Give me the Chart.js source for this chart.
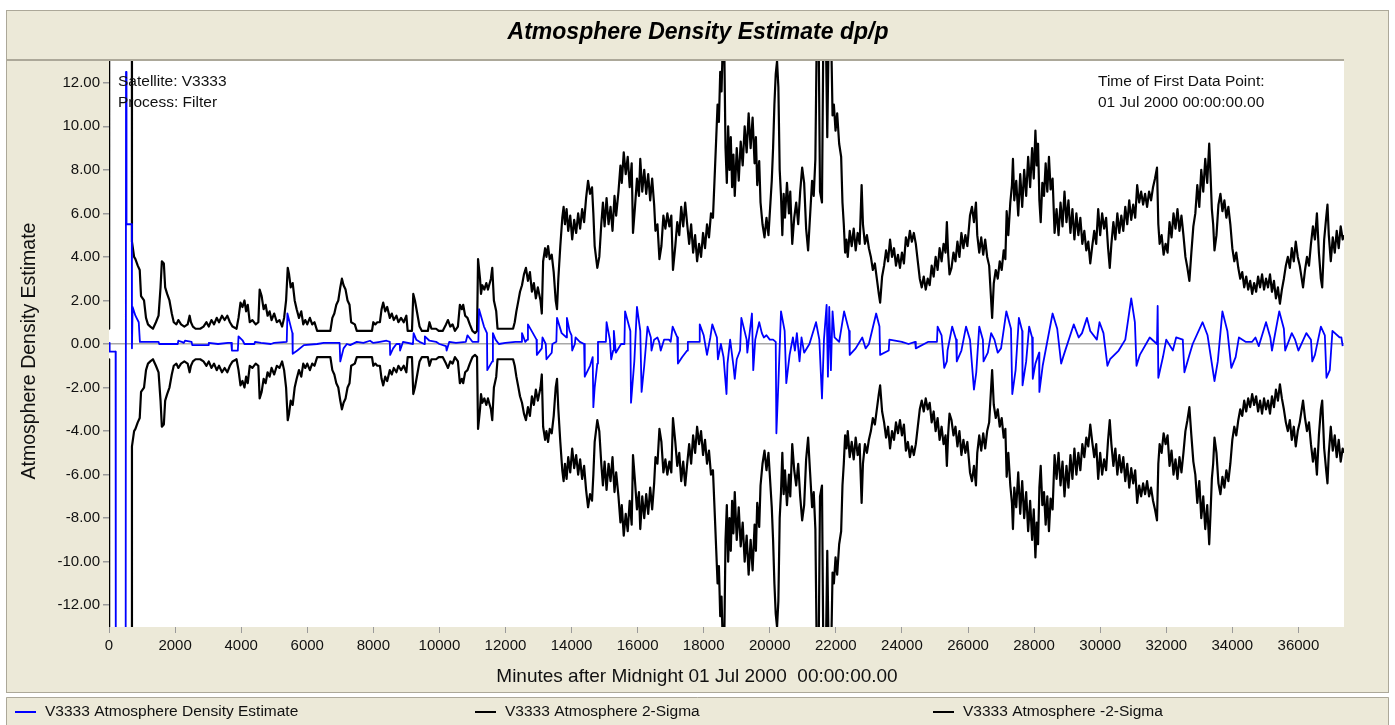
<!DOCTYPE html>
<html>
<head>
<meta charset="utf-8">
<script src="https://cdn.jsdelivr.net/npm/chart.js@4.4.1/dist/chart.umd.min.js"></script>
<style>
  html, body { margin: 0; padding: 0; background: #fff; }
  #wrap { position: relative; width: 1395px; height: 725px; }
</style>
</head>
<body>
<div id="wrap"><canvas id="densityChart"></canvas></div>
<script>
// chart text
const chartTitle = 'Atmosphere Density Estimate dp/p';
const xAxisTitle = 'Minutes after Midnight 01 Jul 2000  00:00:00.00';
const yAxisTitle = 'Atmosphere Density Estimate';
const seriesLabels = ['V3333 Atmosphere Density Estimate', 'V3333 Atmosphere 2-Sigma', 'V3333 Atmosphere -2-Sigma'];
const infoLeft = ['Satellite: V3333', 'Process: Filter'];
const infoRight = ['Time of First Data Point:', '01 Jul 2000 00:00:00.00'];

// axes
const xTicks = [0, 2000, 4000, 6000, 8000, 10000, 12000, 14000, 16000, 18000, 20000, 22000, 24000, 26000, 28000, 30000, 32000, 34000, 36000];
const yTicks = [-12, -10, -8, -6, -4, -2, 0, 2, 4, 6, 8, 10, 12];

// 2-sigma envelope (minutes, value)
const sigmaTime = [
  0,5,690,695,760,800,870,930,970,1060,
  1120,1180,1250,1330,1420,1500,1560,1600,1660,1700,
  1760,1830,1900,1960,2040,2100,2180,2280,2380,2440,
  2480,2540,2620,2760,2860,2950,3020,3100,3180,3260,
  3330,3420,3500,3580,3660,3740,3860,3920,3980,4040,
  4100,4150,4200,4260,4340,4440,4520,4560,4620,4680,
  4740,4800,4860,4920,5000,5080,5160,5240,5300,5360,
  5410,5450,5500,5560,5620,5680,5750,5820,5880,5940,
  6000,6080,6150,6220,6300,6500,6700,6760,6820,6880,
  6940,7000,7050,7100,7160,7220,7280,7330,7440,7500,
  7960,8000,8060,8120,8200,8250,8300,8360,8420,8500,
  8560,8620,8700,8760,8840,8920,9000,9040,9170,9210,
  9260,9330,9400,9470,9650,9700,9760,9900,9980,10100,
  10200,10260,10330,10400,10470,10560,10620,10680,10720,10780,
  10850,10920,11000,11080,11140,11170,11230,11260,11300,11360,
  11420,11470,11560,11600,11650,11720,11760,12230,12280,12330,
  12380,12440,12500,12560,12620,12680,12740,12800,12860,12920,
  12980,13060,13100,13140,13200,13240,13290,13340,13400,13460,
  13520,13560,13600,13660,13720,13760,13800,13850,13900,13960,
  14020,14080,14140,14200,14260,14320,14380,14440,14500,14560,
  14620,14660,14700,14780,14840,14900,14950,15000,15060,15120,
  15180,15240,15300,15350,15420,15480,15520,15580,15640,15700,
  15760,15820,15860,15920,15980,16040,16080,16140,16200,16260,
  16320,16380,16440,16500,16540,16600,16660,16720,16780,16840,
  16900,16960,17020,17070,17140,17200,17260,17320,17380,17440,
  17500,17560,17620,17680,17740,17800,17860,17920,17980,18040,
  18100,18160,18220,18280,18340,18380,18420,18460,18500,18540,
  18580,18620,18660,18700,18740,18780,18820,18860,18900,18940,
  19000,19060,19120,19180,19240,19300,19360,19420,19480,19540,
  19580,19620,19680,19720,19780,19840,19900,19960,20020,20060,
  20100,20140,20180,20220,20260,20300,20340,20380,20420,20460,
  20520,20580,20620,20680,20740,20800,20860,20920,20980,21040,
  21100,21160,21220,21280,21330,21380,21420,21480,21520,21580,
  21620,21700,21740,21780,21860,21900,21940,21990,22040,22100,
  22160,22200,22240,22280,22320,22360,22420,22480,22540,22600,
  22660,22720,22780,22820,22880,22940,23000,23060,23120,23180,
  23240,23300,23340,23400,23460,23520,23580,23640,23700,23760,
  23820,23880,23940,24000,24060,24120,24180,24240,24300,24360,
  24420,24480,24540,24600,24660,24720,24780,24840,24900,24960,
  25020,25080,25140,25200,25260,25320,25360,25400,25440,25500,
  25560,25620,25680,25740,25800,25860,25920,25980,26060,26120,
  26180,26240,26280,26340,26400,26460,26520,26580,26640,26700,
  26730,26780,26840,26900,26960,27020,27080,27130,27170,27220,
  27280,27330,27360,27400,27460,27520,27580,27640,27700,27760,
  27820,27880,27940,27990,28040,28080,28120,28160,28200,28250,
  28300,28350,28400,28450,28500,28560,28620,28680,28740,28800,
  28860,28920,28980,29040,29100,29160,29220,29280,29340,29400,
  29460,29520,29580,29640,29700,29760,29820,29880,29940,30000,
  30060,30120,30180,30240,30290,30340,30400,30460,30520,30580,
  30640,30700,30760,30820,30880,30940,31000,31060,31120,31180,
  31240,31300,31360,31420,31480,31540,31600,31660,31720,31760,
  31800,31860,31920,31980,32040,32100,32160,32220,32280,32340,
  32400,32460,32520,32580,32640,32700,32760,32820,32880,32940,
  33000,33060,33120,33180,33240,33300,33340,33380,33420,33460,
  33520,33580,33640,33700,33760,33820,33880,33940,34000,34060,
  34120,34180,34240,34300,34360,34420,34480,34540,34600,34660,
  34720,34780,34840,34900,34960,35020,35080,35140,35200,35260,
  35320,35380,35440,35500,35560,35620,35680,35740,35800,35860,
  35920,35980,36040,36100,36140,36200,36260,36320,36380,36440,
  36500,36560,36620,36680,36720,36780,36840,36880,36920,36980,
  37040,37100,37160,37220,37280,37340,37380
];
const sigmaUpper = [
  0.7,30,30,4.7,4.0,3.9,3.6,3.4,2.2,2.0,
  1.2,0.9,0.8,0.7,1.0,1.3,2.6,3.8,3.7,2.6,
  2.3,2.0,1.4,1.0,0.9,1.1,0.9,0.8,0.9,1.3,
  1.0,0.8,0.7,0.7,0.8,1.0,0.8,1.1,0.9,1.2,
  1.0,1.3,1.1,1.3,1.0,0.8,0.7,1.2,1.9,1.7,
  2.0,1.5,1.8,1.0,1.1,0.9,1.0,2.5,2.2,1.6,
  1.8,1.3,1.5,1.1,1.4,1.0,1.1,0.8,1.2,2.0,
  3.5,3.2,2.6,2.8,2.0,1.6,1.2,1.5,0.9,1.1,
  0.9,1.2,0.9,1.0,0.6,0.6,0.6,1.2,1.4,1.8,
  2.0,2.6,3.0,2.7,2.5,2.0,1.8,1.0,0.9,0.6,
  0.6,1.0,0.9,1.0,1.0,1.6,1.9,1.5,1.7,1.2,
  1.4,1.1,1.3,1.0,1.2,1.0,1.3,0.6,0.6,2.3,
  2.0,1.4,0.8,0.6,0.6,1.0,0.7,0.7,0.6,0.6,
  0.9,1.1,0.8,0.9,0.6,0.8,1.8,1.6,1.8,1.3,
  1.2,0.9,0.6,0.5,0.6,3.9,3.0,2.3,2.7,2.5,
  2.8,2.5,3.0,3.5,2.0,1.5,0.7,0.7,1.0,1.5,
  1.9,2.4,2.7,3.2,3.5,2.9,3.3,2.4,2.8,2.1,
  2.6,2.0,1.4,3.8,4.4,4.0,4.5,3.9,4.1,3.3,
  2.0,1.6,3.0,4.5,5.8,6.3,5.5,6.2,5.2,5.9,
  4.8,5.7,5.1,6.0,5.3,6.2,5.6,6.7,7.5,6.9,
  7.2,6.0,4.5,3.5,4.0,5.5,6.5,5.4,6.7,5.5,
  6.3,5.2,6.8,5.9,7.0,8.2,7.4,8.8,7.8,8.6,
  7.2,8.3,5.1,6.3,7.6,6.8,8.5,7.0,8.0,6.9,
  7.8,6.6,7.6,6.4,5.2,5.5,3.9,4.5,5.9,5.3,
  6.0,5.4,5.9,3.4,4.5,5.6,5.0,6.3,5.4,6.5,
  5.5,4.6,5.5,4.2,5.0,3.8,4.6,4.0,5.1,4.4,
  5.5,4.9,6.0,5.8,8.0,9.5,11.0,10.2,12.5,11.6,
  14,14,9.0,7.4,10.0,8.0,9.5,7.2,8.7,6.8,
  9.0,7.5,9.3,8.2,10.0,8.8,10.6,9.0,10.4,8.3,
  9.5,7.3,8.4,6.5,5.5,4.9,5.8,5.0,6.5,7.5,
  9.0,11.0,12.4,13.0,11.8,8.0,6.8,5.0,6.9,5.8,
  7.4,6.0,7.0,4.6,5.8,6.5,5.5,7.0,8.1,7.4,
  5.3,4.3,5.9,7.5,6.8,8.5,14,14,7.0,6.5,
  14,14,9.5,14,14,10.5,11.0,9.8,10.6,9.2,
  8.6,6.5,5.5,4.2,4.8,4.0,5.2,4.5,5.3,4.3,
  5.1,4.6,7.3,5.5,4.6,5.0,4.4,4.0,3.4,3.7,
  3.0,2.3,1.9,3.1,3.6,4.3,3.8,4.8,4.0,4.4,
  3.6,4.1,3.5,4.2,3.7,4.9,4.5,5.2,4.7,5.1,
  4.6,3.8,3.0,2.6,3.1,2.5,3.0,2.7,3.6,3.1,
  4.0,3.4,4.4,3.8,4.6,4.2,5.6,4.1,3.2,3.5,
  4.2,3.8,4.7,4.0,5.1,4.4,5.0,4.5,5.9,6.3,
  5.6,6.5,5.0,4.2,4.9,4.1,4.8,4.0,3.6,2.0,
  1.2,2.8,3.4,3.0,3.8,3.4,4.3,3.9,6.1,5.0,
  6.5,7.3,8.5,6.6,7.5,5.9,7.8,6.3,8.0,6.8,
  8.6,7.2,9.0,7.6,9.8,8.2,9.2,6.6,5.6,7.4,
  6.8,8.3,7.0,8.6,7.1,7.6,5.1,6.2,5.0,6.5,
  5.4,7.0,5.6,6.6,5.1,6.2,4.8,6.0,5.0,5.8,
  4.6,5.2,4.3,4.7,3.7,4.5,5.2,4.6,6.2,5.0,
  6.0,5.3,5.8,4.4,3.5,4.6,5.6,4.8,6.0,5.1,
  5.9,5.2,6.3,5.5,6.6,5.7,6.4,5.8,7.3,6.5,
  7.0,6.4,6.9,6.3,7.0,6.6,7.2,7.6,8.1,5.5,
  4.6,5.0,4.1,4.6,4.2,5.6,4.9,6.0,5.3,6.2,
  5.2,5.9,5.0,4.0,3.5,2.9,4.2,5.4,6.0,7.3,
  6.3,8.0,7.0,8.5,7.4,9.2,7.8,6.2,5.5,4.3,
  5.0,6.4,6.9,6.1,6.6,5.8,6.3,5.5,4.4,3.8,
  4.2,3.5,3.0,3.3,2.6,3.1,2.5,2.9,2.3,2.8,
  2.4,3.1,2.6,3.2,2.5,3.0,2.6,3.2,2.4,2.9,
  2.1,2.6,1.85,2.5,3.0,3.6,4.0,3.5,4.4,3.8,
  4.7,4.0,3.6,3.0,2.6,3.4,4.0,3.6,4.6,5.4,
  4.8,6.0,4.2,3.0,2.6,4.8,5.8,6.4,5.0,3.8,
  4.9,4.2,5.2,4.4,5.4,4.8,5.0
];
const sigmaLower = [
  -0.7,-30,-30,-4.7,-4.0,-3.9,-3.6,-3.4,-2.2,-2.0,
  -1.2,-0.9,-0.8,-0.7,-1.0,-1.3,-2.6,-3.8,-3.7,-2.6,
  -2.3,-2.0,-1.4,-1.0,-0.9,-1.1,-0.9,-0.8,-0.9,-1.3,
  -1.0,-0.8,-0.7,-0.7,-0.8,-1.0,-0.8,-1.1,-0.9,-1.2,
  -1.0,-1.3,-1.1,-1.3,-1.0,-0.8,-0.7,-1.2,-1.9,-1.7,
  -2.0,-1.5,-1.8,-1.0,-1.1,-0.9,-1.0,-2.5,-2.2,-1.6,
  -1.8,-1.3,-1.5,-1.1,-1.4,-1.0,-1.1,-0.8,-1.2,-2.0,
  -3.5,-3.2,-2.6,-2.8,-2.0,-1.6,-1.2,-1.5,-0.9,-1.1,
  -0.9,-1.2,-0.9,-1.0,-0.6,-0.6,-0.6,-1.2,-1.4,-1.8,
  -2.0,-2.6,-3.0,-2.7,-2.5,-2.0,-1.8,-1.0,-0.9,-0.6,
  -0.6,-1.0,-0.9,-1.0,-1.0,-1.6,-1.9,-1.5,-1.7,-1.2,
  -1.4,-1.1,-1.3,-1.0,-1.2,-1.0,-1.3,-0.6,-0.6,-2.3,
  -2.0,-1.4,-0.8,-0.6,-0.6,-1.0,-0.7,-0.7,-0.6,-0.6,
  -0.9,-1.1,-0.8,-0.9,-0.6,-0.8,-1.8,-1.6,-1.8,-1.3,
  -1.2,-0.9,-0.6,-0.5,-0.6,-3.9,-3.0,-2.3,-2.7,-2.5,
  -2.8,-2.5,-3.0,-3.5,-2.0,-1.5,-0.7,-0.7,-1.0,-1.5,
  -1.9,-2.4,-2.7,-3.2,-3.5,-2.9,-3.3,-2.4,-2.8,-2.1,
  -2.6,-2.0,-1.4,-3.8,-4.4,-4.0,-4.5,-3.9,-4.1,-3.3,
  -2.0,-1.6,-3.0,-4.5,-5.8,-6.3,-5.5,-6.2,-5.2,-5.9,
  -4.8,-5.7,-5.1,-6.0,-5.3,-6.2,-5.6,-6.7,-7.5,-6.9,
  -7.2,-6.0,-4.5,-3.5,-4.0,-5.5,-6.5,-5.4,-6.7,-5.5,
  -6.3,-5.2,-6.8,-5.9,-7.0,-8.2,-7.4,-8.8,-7.8,-8.6,
  -7.2,-8.3,-5.1,-6.3,-7.6,-6.8,-8.5,-7.0,-8.0,-6.9,
  -7.8,-6.6,-7.6,-6.4,-5.2,-5.5,-3.9,-4.5,-5.9,-5.3,
  -6.0,-5.4,-5.9,-3.4,-4.5,-5.6,-5.0,-6.3,-5.4,-6.5,
  -5.5,-4.6,-5.5,-4.2,-5.0,-3.8,-4.6,-4.0,-5.1,-4.4,
  -5.5,-4.9,-6.0,-5.8,-8.0,-9.5,-11.0,-10.2,-12.5,-11.6,
  -14,-14,-9.0,-7.4,-10.0,-8.0,-9.5,-7.2,-8.7,-6.8,
  -9.0,-7.5,-9.3,-8.2,-10.0,-8.8,-10.6,-9.0,-10.4,-8.3,
  -9.5,-7.3,-8.4,-6.5,-5.5,-4.9,-5.8,-5.0,-6.5,-7.5,
  -9.0,-11.0,-12.4,-13.0,-11.8,-8.0,-6.8,-5.0,-6.9,-5.8,
  -7.4,-6.0,-7.0,-4.6,-5.8,-6.5,-5.5,-7.0,-8.1,-7.4,
  -5.3,-4.3,-5.9,-7.5,-6.8,-8.5,-14,-14,-7.0,-6.5,
  -14,-14,-9.5,-14,-14,-10.5,-11.0,-9.8,-10.6,-9.2,
  -8.6,-6.5,-5.5,-4.2,-4.8,-4.0,-5.2,-4.5,-5.3,-4.3,
  -5.1,-4.6,-7.3,-5.5,-4.6,-5.0,-4.4,-4.0,-3.4,-3.7,
  -3.0,-2.3,-1.9,-3.1,-3.6,-4.3,-3.8,-4.8,-4.0,-4.4,
  -3.6,-4.1,-3.5,-4.2,-3.7,-4.9,-4.5,-5.2,-4.7,-5.1,
  -4.6,-3.8,-3.0,-2.6,-3.1,-2.5,-3.0,-2.7,-3.6,-3.1,
  -4.0,-3.4,-4.4,-3.8,-4.6,-4.2,-5.6,-4.1,-3.2,-3.5,
  -4.2,-3.8,-4.7,-4.0,-5.1,-4.4,-5.0,-4.5,-5.9,-6.3,
  -5.6,-6.5,-5.0,-4.2,-4.9,-4.1,-4.8,-4.0,-3.6,-2.0,
  -1.2,-2.8,-3.4,-3.0,-3.8,-3.4,-4.3,-3.9,-6.1,-5.0,
  -6.5,-7.3,-8.5,-6.6,-7.5,-5.9,-7.8,-6.3,-8.0,-6.8,
  -8.6,-7.2,-9.0,-7.6,-9.8,-8.2,-9.2,-6.6,-5.6,-7.4,
  -6.8,-8.3,-7.0,-8.6,-7.1,-7.6,-5.1,-6.2,-5.0,-6.5,
  -5.4,-7.0,-5.6,-6.6,-5.1,-6.2,-4.8,-6.0,-5.0,-5.8,
  -4.6,-5.2,-4.3,-4.7,-3.7,-4.5,-5.2,-4.6,-6.2,-5.0,
  -6.0,-5.3,-5.8,-4.4,-3.5,-4.6,-5.6,-4.8,-6.0,-5.1,
  -5.9,-5.2,-6.3,-5.5,-6.6,-5.7,-6.4,-5.8,-7.3,-6.5,
  -7.0,-6.4,-6.9,-6.3,-7.0,-6.6,-7.2,-7.6,-8.1,-5.5,
  -4.6,-5.0,-4.1,-4.6,-4.2,-5.6,-4.9,-6.0,-5.3,-6.2,
  -5.2,-5.9,-5.0,-4.0,-3.5,-2.9,-4.2,-5.4,-6.0,-7.3,
  -6.3,-8.0,-7.0,-8.5,-7.4,-9.2,-7.8,-6.2,-5.5,-4.3,
  -5.0,-6.4,-6.9,-6.1,-6.6,-5.8,-6.3,-5.5,-4.4,-3.8,
  -4.2,-3.5,-3.0,-3.3,-2.6,-3.1,-2.5,-2.9,-2.3,-2.8,
  -2.4,-3.1,-2.6,-3.2,-2.5,-3.0,-2.6,-3.2,-2.4,-2.9,
  -2.1,-2.6,-1.85,-2.5,-3.0,-3.6,-4.0,-3.5,-4.4,-3.8,
  -4.7,-4.0,-3.6,-3.0,-2.6,-3.4,-4.0,-3.6,-4.6,-5.4,
  -4.8,-6.0,-4.2,-3.0,-2.6,-4.8,-5.8,-6.4,-5.0,-3.8,
  -4.9,-4.2,-5.2,-4.4,-5.4,-4.8,-5.0
];

// density estimate (minutes, value)
const estimateTime = [
  0,20,200,205,505,515,530,690,695,715,
  800,900,935,1500,1520,2080,2100,2200,2260,2300,
  2500,2520,3000,3020,3300,3600,3700,3720,3900,3920,
  4050,4100,4400,4420,4600,4900,5000,5380,5400,5550,
  5560,5700,5900,6300,6500,6980,7000,7100,7200,7300,
  7500,7700,7900,8000,8200,8400,8500,8510,8600,8700,
  8800,8810,8900,9200,9220,9300,9400,9540,9560,9700,
  9900,10000,10200,10220,10300,10500,10800,10850,11000,11180,
  11200,11350,11440,11450,11600,11620,11700,11800,12000,12300,
  12480,12500,12600,12660,12680,12830,12940,12950,13100,13120,
  13220,13240,13400,13420,13540,13560,13700,13850,13860,13940,
  14000,14020,14100,14120,14250,14380,14400,14560,14640,14660,
  14700,14780,14800,15040,15060,15160,15200,15260,15280,15340,
  15500,15600,15620,15780,15800,15900,15980,16080,16120,16200,
  16300,16400,16420,16500,16600,16650,16700,16800,16950,17000,
  17060,17200,17220,17350,17500,17520,17860,17880,18000,18100,
  18200,18260,18400,18430,18520,18600,18690,18720,18800,18900,
  18940,19000,19100,19140,19300,19320,19460,19500,19560,19680,
  19760,19820,19900,20000,20100,20180,20200,20260,20340,20450,
  20500,20600,20700,20760,20820,20900,20960,21040,21200,21400,
  21500,21580,21640,21720,21760,21800,21850,21900,21960,22100,
  22250,22400,22420,22600,22800,22900,23000,23220,23320,23340,
  23600,23620,24000,24200,24400,24420,24800,25060,25080,25200,
  25280,25360,25380,25520,25640,25660,25800,25940,26060,26180,
  26250,26340,26450,26470,26600,26700,26800,26900,27000,27160,
  27300,27340,27440,27540,27640,27650,27760,27850,27940,27960,
  28040,28150,28160,28260,28560,28700,28820,28900,29200,29350,
  29450,29600,29700,29900,29980,30100,30220,30300,30560,30760,
  30940,31050,31100,31200,31500,31720,31740,31760,31900,32000,
  32200,32300,32500,32550,32700,32800,33100,33250,33460,33560,
  33700,33850,33970,34100,34200,34400,34600,34700,34800,35020,
  35150,35200,35420,35560,35600,35800,35900,36000,36240,36380,
  36420,36500,36680,36800,36850,36950,37030,37250,37300,37340
];
const estimateValue = [
  0.05,-0.35,-0.35,-14,-14,12.5,5.5,5.5,-0.2,1.7,
  1.3,1.0,0.1,0.1,0.0,0.0,0.15,0.1,0.05,0.15,
  0.1,-0.05,-0.05,0.05,0.0,0.05,0.05,-0.3,-0.3,0.35,
  0.15,0.0,0.0,0.1,0.05,0.0,0.05,0.1,1.4,0.5,
  -0.45,-0.3,-0.05,0.0,0.05,0.05,-0.8,-0.2,0.0,-0.05,
  0.1,0.05,0.15,0.05,0.1,0.15,0.1,-0.5,-0.2,0.0,
  0.0,-0.3,0.1,0.0,0.5,0.2,0.1,0.0,0.35,0.15,
  0.1,0.0,-0.1,-0.3,0.1,0.05,0.1,0.4,0.1,0.1,
  1.6,0.8,0.5,-1.2,-0.8,0.5,0.2,0.0,0.05,0.1,
  0.1,0.5,0.1,0.2,0.9,0.5,0.2,-0.5,-0.2,0.3,
  0.0,-0.7,-0.4,0.0,0.1,1.2,0.5,0.3,1.2,0.6,
  0.4,-0.3,0.0,0.3,0.1,0.0,-1.5,-1.0,-0.6,-2.9,
  -2.0,-0.9,0.1,0.1,1.0,0.2,-0.7,-0.3,0.6,-0.4,
  0.0,0.0,1.5,0.6,-2.7,-0.8,1.7,0.6,-2.2,-1.0,
  0.8,0.3,-0.3,0.2,0.3,0.1,-0.3,0.2,0.2,0.1,
  0.8,0.3,-0.9,-0.6,-0.3,0.1,0.1,0.9,0.4,-0.5,
  0.3,0.9,0.3,-0.7,0.0,-0.6,-2.3,-0.9,0.2,-1.0,
  -1.6,-0.7,-0.3,1.2,0.2,-0.4,1.4,-1.2,0.2,1.0,
  0.5,0.3,0.4,0.2,0.2,0.1,-4.1,-1.8,1.5,0.6,
  -1.8,-0.5,0.3,-0.3,0.5,-0.8,0.3,-0.4,0.0,1.0,
  0.2,-2.5,0.2,1.8,-1.5,1.7,-1.2,1.5,0.3,0.1,
  1.5,0.6,-0.5,-0.2,0.3,-0.2,0.0,1.4,0.8,-0.5,
  -0.3,0.2,0.1,0.0,0.1,-0.2,0.1,0.1,0.8,0.4,
  -1.1,-0.8,-0.3,0.8,0.2,-0.8,-0.3,0.8,0.2,-2.1,
  -1.3,0.8,0.2,-0.8,-0.4,0.5,0.2,-0.4,-0.2,1.5,
  0.7,-2.3,-1.2,1.2,0.6,-1.9,-0.8,0.8,0.3,-1.6,
  -0.9,-0.4,-2.2,-1.0,1.4,0.7,-0.9,-0.5,0.9,0.3,
  0.5,1.2,0.6,0.2,1.0,0.5,-1.0,-0.7,-0.3,0.2,
  2.1,1.0,-1.0,-0.5,0.3,0.0,1.75,-1.55,-0.6,0.2,
  -0.3,0.3,0.2,-1.3,-0.5,0.0,1.0,0.4,-1.7,-0.8,
  1.5,0.6,-1.1,-0.6,0.3,0.1,0.1,0.3,-0.1,1.0,
  0.3,-0.3,1.5,0.7,-0.3,0.5,0.2,-0.3,0.5,0.2,
  -0.8,-0.5,0.8,0.4,-1.55,-1.2,0.6,0.3,0.3,-0.1
];

const toPoints = (xs, ys) => xs.map((x, i) => ({ x: x, y: ys[i] }));

const fontFamily = "'Liberation Sans', Arial, sans-serif";
const panelColor = '#ece9d8';
const frameColor = '#aca899';
const textColor = '#111111';

const framePlugin = {
  id: 'frame',
  beforeDraw(chart) {
    const { ctx, chartArea: a, width, height } = chart;
    ctx.save();
    ctx.fillStyle = '#ffffff';
    ctx.fillRect(0, 0, width, height);
    ctx.fillStyle = panelColor;
    ctx.fillRect(6, 10, 1383, 683);
    ctx.fillRect(6, 697, 1383, height - 697);
    ctx.fillStyle = '#ffffff';
    ctx.fillRect(a.left, a.top, a.right - a.left, a.bottom - a.top);
    ctx.strokeStyle = frameColor;
    ctx.lineWidth = 1;
    ctx.strokeRect(6.5, 10.5, 1382, 682);
    ctx.beginPath();
    ctx.moveTo(6.5, height); ctx.lineTo(6.5, 697.5); ctx.lineTo(1388.5, 697.5); ctx.lineTo(1388.5, height);
    ctx.stroke();
    ctx.lineWidth = 2;
    ctx.beginPath();
    ctx.moveTo(6, 60); ctx.lineTo(a.right, 60);
    ctx.stroke();
    ctx.restore();
  },
  afterDraw(chart) {
    const { ctx, chartArea: a } = chart;
    ctx.save();
    ctx.fillStyle = '#000';
    ctx.textBaseline = 'middle';
    ctx.textAlign = 'center';
    ctx.font = 'italic bold 23px ' + fontFamily;
    ctx.fillText(chartTitle, 698, 33);

    // axis titles
    ctx.fillStyle = textColor;
    ctx.font = '19px ' + fontFamily;
    ctx.fillText(xAxisTitle, 697, 677);
    ctx.save();
    ctx.translate(30, 351);
    ctx.rotate(-Math.PI / 2);
    ctx.font = '19.5px ' + fontFamily;
    ctx.fillText(yAxisTitle, 0, 0);
    ctx.restore();

    ctx.textAlign = 'left';
    ctx.font = '15.5px ' + fontFamily;
    infoLeft.forEach((t, i) => ctx.fillText(t, a.left + 9, 82 + i * 21));
    infoRight.forEach((t, i) => ctx.fillText(t, 1098, 82 + i * 21));

    // legend row
    const legendX = [15, 475, 933];
    ctx.font = '15.5px ' + fontFamily;
    chart.data.datasets.forEach((ds, i) => {
      const x = legendX[i];
      ctx.strokeStyle = ds.borderColor;
      ctx.lineWidth = 2;
      ctx.beginPath();
      ctx.moveTo(x, 712); ctx.lineTo(x + 21, 712);
      ctx.stroke();
      ctx.fillStyle = textColor;
      ctx.fillText(ds.label, x + 30, 712);
    });
    ctx.restore();
  }
};

const lineStyle = {
  pointRadius: 0,
  pointHoverRadius: 0,
  tension: 0,
  borderJoinStyle: 'round',
  fill: false
};

new Chart(document.getElementById('densityChart'), {
  type: 'line',
  data: {
    datasets: [
      Object.assign({ label: seriesLabels[0], data: toPoints(estimateTime, estimateValue), borderColor: '#0000ff', borderWidth: 1.8 }, lineStyle),
      Object.assign({ label: seriesLabels[1], data: toPoints(sigmaTime, sigmaUpper), borderColor: '#000000', borderWidth: 2.2 }, lineStyle),
      Object.assign({ label: seriesLabels[2], data: toPoints(sigmaTime, sigmaLower), borderColor: '#000000', borderWidth: 2.2 }, lineStyle)
    ]
  },
  options: {
    responsive: true,
    maintainAspectRatio: false,
    animation: false,
    events: [],
    layout: { padding: { top: 61, right: 51, left: 0, bottom: 0 } },
    plugins: {
      legend: { display: false },
      title: { display: false },
      tooltip: { enabled: false }
    },
    scales: {
      x: {
        type: 'linear',
        min: 0,
        max: 37380,
        afterBuildTicks: (scale) => { scale.ticks = xTicks.map(v => ({ value: v })); },
        afterFit: (scale) => { scale.height = 98; },
        border: { display: false },
        grid: { drawOnChartArea: false, tickLength: 6, tickColor: '#9a9a9a' },
        ticks: {
          padding: 4,
          color: textColor,
          font: { family: fontFamily, size: 15 },
          maxRotation: 0,
          autoSkip: false,
          callback: (v) => String(v)
        },
        title: { display: false }
      },
      y: {
        min: -13,
        max: 13,
        afterBuildTicks: (scale) => { scale.ticks = yTicks.map(v => ({ value: v })); },
        afterFit: (scale) => { scale.width = 109; },
        border: { display: false },
        grid: {
          color: (c) => (c.tick && c.tick.value === 0 ? '#a8a8a8' : 'rgba(0,0,0,0)'),
          lineWidth: 1.5,
          tickLength: 6,
          tickColor: '#9a9a9a'
        },
        ticks: {
          padding: 3,
          color: textColor,
          font: { family: fontFamily, size: 15 },
          autoSkip: false,
          callback: (v) => Number(v).toFixed(2)
        },
        title: { display: false }
      }
    }
  },
  plugins: [framePlugin]
});
</script>
</body>
</html>
